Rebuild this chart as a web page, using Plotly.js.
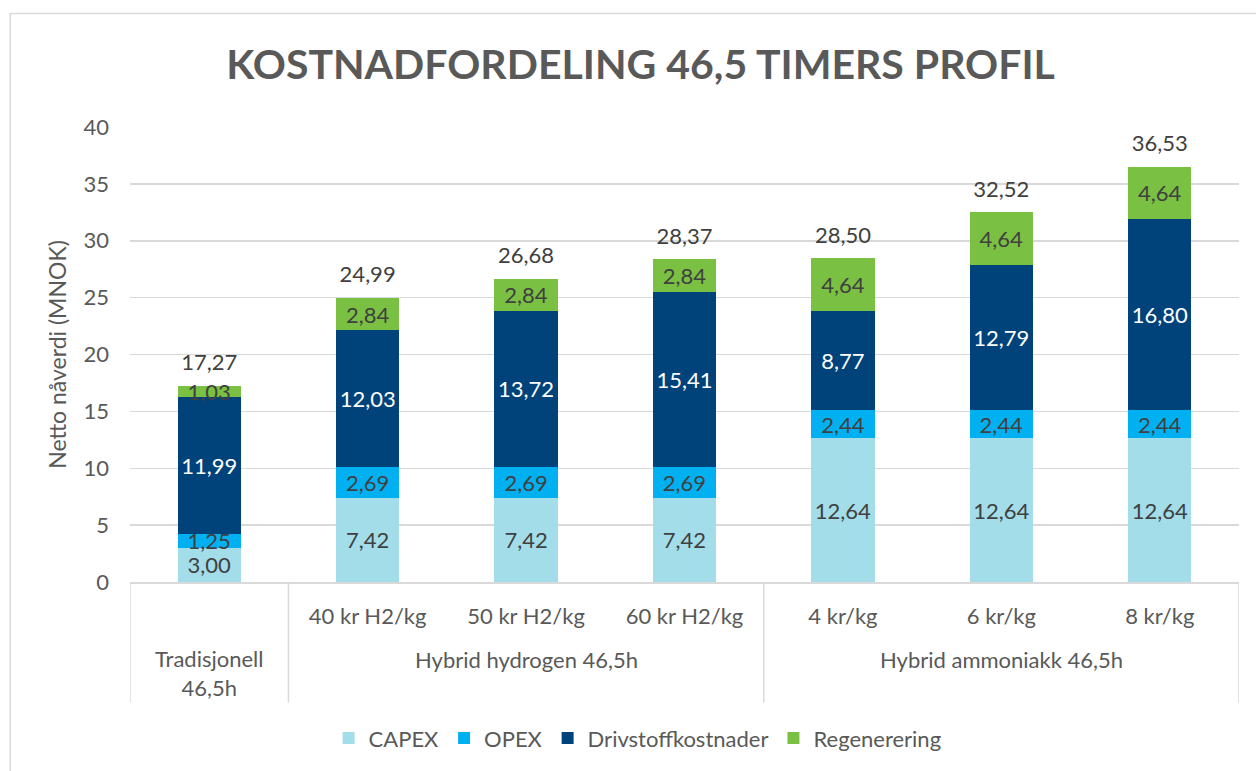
<!DOCTYPE html>
<html>
<head>
<meta charset="utf-8">
<script src="https://cdn.plot.ly/plotly-3.0.1.min.js"></script>
<style>
  html, body { margin: 0; padding: 0; background: #ffffff; }
  #chart { width: 1256px; height: 771px; }
</style>
</head>
<body>
<div id="chart"></div>
<script>
// kategorier
let groups = ["Tradisjonell<br>46,5h", "Hybrid hydrogen 46,5h", "Hybrid ammoniakk 46,5h"];
let groupCenters = [0, 2, 5];
let groupEdges = [-0.5, 0.5, 3.5, 6.5];
let subLabels = ["", "40 kr H2/kg", "50 kr H2/kg", "60 kr H2/kg", "4 kr/kg", "6 kr/kg", "8 kr/kg"];
let xPos = [0, 1, 2, 3, 4, 5, 6];

// verdier (MNOK)
let capex = [3.00, 7.42, 7.42, 7.42, 12.64, 12.64, 12.64];
let opex = [1.25, 2.69, 2.69, 2.69, 2.44, 2.44, 2.44];
let drivstoff = [11.99, 12.03, 13.72, 15.41, 8.77, 12.79, 16.80];
let regenerering = [1.03, 2.84, 2.84, 2.84, 4.64, 4.64, 4.64];
let totals = [17.27, 24.99, 26.68, 28.37, 28.50, 32.52, 36.53];

const FONT = "Lato, 'Open Sans', sans-serif";
const GREY = "#595959";
const DARK = "#404040";
const FS = 22;

function barTrace(name, vals, color, textColor) {
    return {
        type: 'bar',
        name: name,
        x: xPos,
        y: vals,
        marker: { color: color },
        text: vals,
        texttemplate: '%{y:.2f}',
        textposition: 'inside',
        insidetextanchor: 'middle',
        textangle: 0,
        constraintext: 'none',
        cliponaxis: false,
        textfont: { family: FONT, size: FS, color: textColor },
        hoverinfo: 'skip'
    };
}

let traces = [
    barTrace('CAPEX', capex, '#a2dde9', DARK),
    barTrace('OPEX', opex, '#00b0f0', DARK),
    barTrace('Drivstoffkostnader', drivstoff, '#00437a', '#ffffff'),
    barTrace('Regenerering', regenerering, '#7ac143', DARK),
    {
        type: 'scatter',
        mode: 'markers+text',
        x: xPos,
        y: totals,
        marker: { size: 14, color: 'rgba(0,0,0,0)' },
        text: totals,
        texttemplate: '%{y:.2f}',
        textposition: 'top center',
        textfont: { family: FONT, size: FS, color: DARK },
        showlegend: false,
        cliponaxis: false,
        hoverinfo: 'skip'
    }
];

let shapes = [];
// ramme rundt diagramområdet
shapes.push({
    type: 'rect', xref: 'paper', yref: 'paper',
    x0: -0.108, x1: 1.2, y0: -1, y1: 1.2494,
    line: { color: '#d9d9d9', width: 1.5 }, fillcolor: 'rgba(0,0,0,0)', layer: 'below'
});
// skillelinjer for kategoriaksen
groupEdges.forEach(function (e) {
    shapes.push({
        type: 'line', xref: 'x', yref: 'paper',
        x0: e, x1: e, y0: 0, y1: -0.265,
        line: { color: '#d9d9d9', width: 1.5 }
    });
});

let annotations = groups.map(function (g, i) {
    return {
        text: g,
        x: groupCenters[i],
        xref: 'x',
        y: i === 0 ? -0.2 : -0.17,
        yref: 'paper',
        yanchor: 'middle',
        showarrow: false,
        font: { family: FONT, size: FS, color: GREY }
    };
});

let layout = {
    width: 1256,
    height: 771,
    paper_bgcolor: '#ffffff',
    plot_bgcolor: '#ffffff',
    separators: ', ',
    barmode: 'stack',
    bargap: 0.6,
    margin: { l: 130, r: 17, t: 127, b: 187 },
    font: { family: FONT, color: GREY },
    title: {
        text: '<b>KOSTNADFORDELING 46,5 TIMERS PROFIL</b>',
        font: { family: FONT, size: 41, color: GREY },
        xref: 'container', x: 0.51,
        yref: 'container', y: 0.916, yanchor: 'middle'
    },
    xaxis: {
        range: [-0.5, 6.5],
        tickvals: xPos,
        ticktext: subLabels,
        ticks: '',
        ticklabelstandoff: 14,
        tickfont: { family: FONT, size: FS, color: GREY },
        showgrid: false,
        showline: true,
        linecolor: '#d9d9d9',
        linewidth: 1.5,
        zeroline: false,
        fixedrange: true
    },
    yaxis: {
        range: [0, 40],
        dtick: 5,
        tickfont: { family: FONT, size: FS, color: GREY },
        ticklabelstandoff: 20,
        gridcolor: '#d9d9d9',
        gridwidth: 1.5,
        zeroline: false,
        title: {
            text: 'Netto nåverdi (MNOK)',
            font: { family: FONT, size: 23, color: GREY },
            standoff: 10
        },
        fixedrange: true
    },
    legend: {
        orientation: 'h',
        x: 0.4577, xanchor: 'center',
        y: -0.3435, yanchor: 'middle',
        font: { family: FONT, size: FS, color: GREY },
        traceorder: 'normal'
    },
    shapes: shapes,
    annotations: annotations
};

Plotly.newPlot('chart', traces, layout, { displayModeBar: false, staticPlot: true });
</script>
</body>
</html>
